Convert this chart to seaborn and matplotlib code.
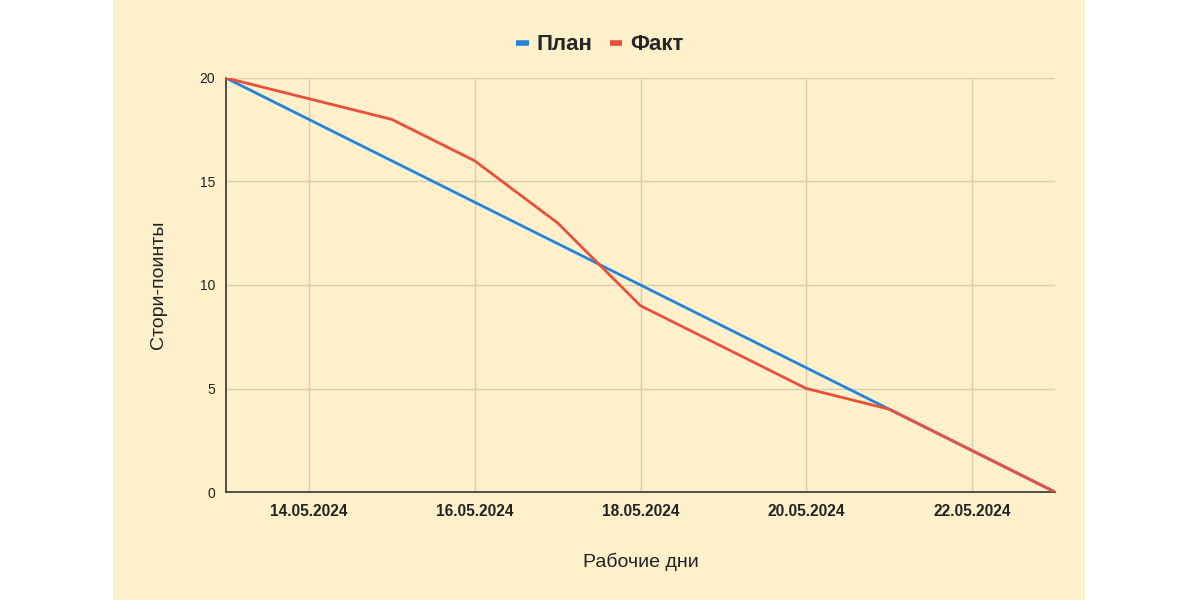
import matplotlib
matplotlib.use("Agg")
import matplotlib.pyplot as plt
from matplotlib.patches import Rectangle
from matplotlib.lines import Line2D
import seaborn as sns
import pandas as pd

dates = ["13.05.2024", "14.05.2024", "15.05.2024", "16.05.2024", "17.05.2024", "18.05.2024",
         "19.05.2024", "20.05.2024", "21.05.2024", "22.05.2024", "23.05.2024"]
plan = [20, 18, 16, 14, 12, 10, 8, 6, 4, 2, 0]
fact = [20, 19, 18, 16, 13, 9, 7, 5, 4, 2, 0]
tick_dates = ["14.05.2024", "16.05.2024", "18.05.2024", "20.05.2024", "22.05.2024"]
y_ticks = [0, 5, 10, 15, 20]

sns.set_theme(style="white")
plt.rcParams['font.family'] = ['Liberation Sans', 'DejaVu Sans']

BG = "#fdf0cb"
GRID = "#d9cdb0"
BLUE = "#2383d9"
RED = "#e8503a"

d = pd.to_datetime(dates, format="%d.%m.%Y")
df = pd.DataFrame({"date": list(d) * 2,
                   "value": plan + fact,
                   "series": ["План"] * len(d) + ["Факт"] * len(d)})

fig = plt.figure(figsize=(12, 6), dpi=100)
fig.patch.set_facecolor("white")
bgrect = Rectangle((113 / 1200, 0), (1085 - 113) / 1200, 1, transform=fig.transFigure,
                   facecolor=BG, edgecolor="none", zorder=-10)
fig.add_artist(bgrect)
ax = fig.add_axes([226 / 1200, 1 - 492 / 600, (1055 - 226) / 1200, (492 - 78) / 600])
ax.set_zorder(1)
ax.set_facecolor(BG)

sns.lineplot(data=df, x="date", y="value", hue="series", palette={"План": BLUE, "Факт": RED},
             linewidth=2, ax=ax, legend=False, zorder=3)

ax.set_xlim(d[0], d[-1])
ax.set_ylim(0, 20)
td = pd.to_datetime(tick_dates, format="%d.%m.%Y")
ax.set_xticks(td)
ax.set_xticklabels(tick_dates, fontsize=11.2, fontweight="bold", color="#222222")
ax.set_yticks(y_ticks)
ax.set_yticklabels([str(v) for v in y_ticks], fontsize=10, color="#222222")
ax.tick_params(axis="x", length=0, pad=9)
ax.tick_params(axis="y", length=0, pad=8)

ax.grid(True, color=GRID, linewidth=1, zorder=1)
ax.set_axisbelow(True)
for s in ["top", "right"]:
    ax.spines[s].set_visible(False)
for s in ["left", "bottom"]:
    ax.spines[s].set_color("#333333")
    ax.spines[s].set_linewidth(1.2)

ax.set_xlabel("Рабочие дни", fontsize=14, color="#222222", labelpad=24)
ax.set_ylabel("Стори-поинты", fontsize=14, color="#222222", labelpad=23)

handles = [Line2D([0], [0], color=BLUE, linewidth=4, solid_capstyle="butt"),
           Line2D([0], [0], color=RED, linewidth=4, solid_capstyle="butt")]
fig.legend(handles, ["План", "Факт"], loc="center", bbox_to_anchor=(0.5, 1 - 45 / 600),
           ncol=2, frameon=False, handlelength=0.55, handletextpad=0.35, columnspacing=0.8,
           prop={"size": 16, "weight": "bold"})

fig.savefig("out.png", dpi=100, facecolor=fig.get_facecolor())
